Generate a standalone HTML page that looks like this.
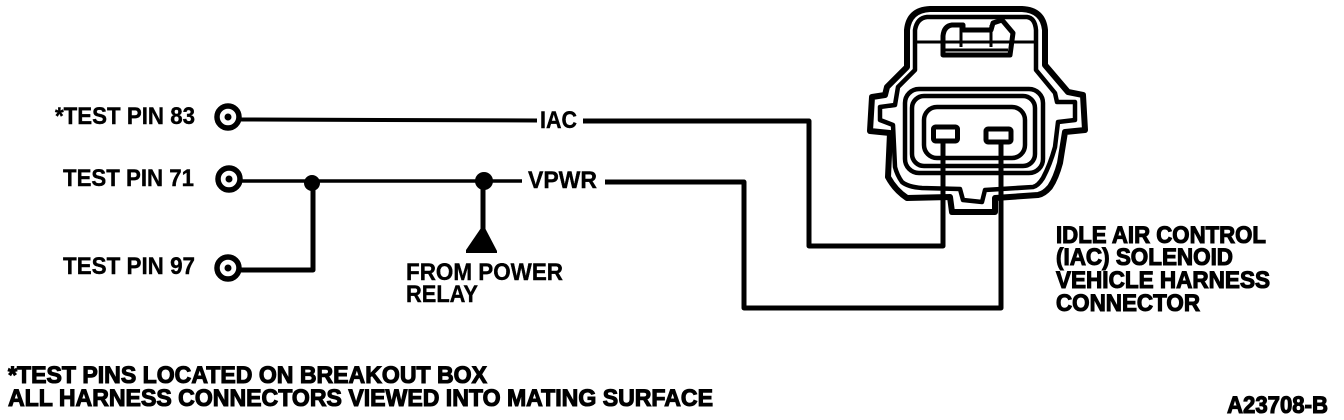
<!DOCTYPE html>
<html>
<head>
<meta charset="utf-8">
<style>
html,body{margin:0;padding:0;background:#fff;width:1344px;height:420px;overflow:hidden}
svg{display:block}
text{font-family:"Liberation Sans",sans-serif;fill:#000;font-weight:bold}
.a{font-size:24px;stroke:#000;stroke-width:.4px}
.b{font-size:24px;stroke:#000;stroke-width:1.1px}
</style>
</head>
<body>
<svg width="1344" height="420" viewBox="0 0 1344 420" xmlns="http://www.w3.org/2000/svg">
<rect width="1344" height="420" fill="#fff"/>
<g fill="none" stroke="#000" stroke-linejoin="round">
  <!-- connector outer contour -->
  <path stroke-width="6" d="M907,67 L907,30 Q909,10 930,9 L1022,9 Q1043,10 1045,30 L1045,65 L1068,92 L1083,95 L1085,130 L1065,132 L1060,163 Q1056,178 1050,187 Q1044,194 1038,195 L995,198 L995,212 L952,212 L950,197 L907,198 Q895,190 888,177 L890,133 L870,131 L872,97 L885,95 L887,87 Z"/>
  <!-- connector inner contour -->
  <path stroke-width="4.500" d="M915,70 L915,30 Q917,18 927,17 L1027,17 Q1035,18 1036,30 L1036,70 L1055,93 L1057,102 L1075,102 L1075,120 L1058,122 L1055,147 Q1050,165 1043,178 Q1038,186 1033,187 L985,190 L982,202 L963,200 L960,189 L922,188 Q908,187 902,182 Q897,175 895,167 L893,125 L880,120 L880,107 L895,105 L898,87 Z"/>
  <!-- cross line and latch -->
  <path stroke-width="3" d="M915,42 L1036,42"/>
  <path stroke-width="5" d="M943,55 L943,36 Q944,26 952,25 L963,25 L963,30 L991,30 L993,23 L1002,20 L1013,33 L1010,55 Z"/>
  <path stroke-width="3" d="M961,25 L961,47 M991,25 L991,47 M945,50 L1008,50"/>
  <!-- rounded nested rects -->
  <rect x="905" y="89" width="138" height="84" rx="14" stroke-width="4.500"/>
  <rect x="912" y="96" width="123" height="70" rx="12" stroke-width="4.500"/>
  <rect x="924" y="107" width="101" height="51" rx="13" stroke-width="4.500"/>
  <!-- pins -->
  <rect x="933.500" y="127" width="24" height="14" rx="2" stroke-width="5"/>
  <rect x="986" y="129" width="25" height="13" rx="2" stroke-width="5"/>
  <!-- wires -->
  <path stroke-width="5" d="M583,121 L809,121 L809,246 L943,246 L943,140"/>
  <path stroke-width="5" d="M605,182 L744,182 L744,308 L1001,308 L1001,143"/>
  <path stroke-width="4" d="M240,119.500 L537,120.500"/>
  <path stroke-width="3.500" d="M240,181 L522,181"/>
  <path stroke-width="5" d="M240,270 L313,270 L313,183"/>
  <path stroke-width="5" d="M483,181 L483,232"/>
  <!-- test pin circles -->
  <circle cx="228" cy="117" r="11" stroke-width="5.500"/>
  <circle cx="229" cy="179" r="11" stroke-width="5.500"/>
  <circle cx="228" cy="268" r="11" stroke-width="5.500"/>
</g>
<circle cx="228" cy="117" r="3.500"/>
<circle cx="229" cy="179" r="3.500"/>
<circle cx="228" cy="268" r="3.500"/>
<circle cx="312" cy="183" r="8"/>
<circle cx="484" cy="181" r="9"/>
<polygon points="481,228 485,228 497,251 497,253 466,253 466,250"/>

<text class="a" x="55" y="124" textLength="140" lengthAdjust="spacingAndGlyphs">*TEST PIN 83</text>
<text class="a" x="63" y="186" textLength="131" lengthAdjust="spacingAndGlyphs">TEST PIN 71</text>
<text class="a" x="63" y="274" textLength="132" lengthAdjust="spacingAndGlyphs">TEST PIN 97</text>
<text class="a" x="540" y="128" textLength="37" lengthAdjust="spacingAndGlyphs">IAC</text>
<text class="a" x="528" y="188" textLength="69" lengthAdjust="spacingAndGlyphs">VPWR</text>
<text class="a" x="406" y="280" textLength="157" lengthAdjust="spacingAndGlyphs">FROM POWER</text>
<text class="a" x="406" y="302" textLength="72" lengthAdjust="spacingAndGlyphs">RELAY</text>

<text class="b" x="1056" y="243" textLength="210" lengthAdjust="spacingAndGlyphs">IDLE AIR CONTROL</text>
<text class="b" x="1056" y="265" textLength="177" lengthAdjust="spacingAndGlyphs">(IAC) SOLENOID</text>
<text class="b" x="1056" y="288" textLength="214" lengthAdjust="spacingAndGlyphs">VEHICLE HARNESS</text>
<text class="b" x="1056" y="311" textLength="144" lengthAdjust="spacingAndGlyphs">CONNECTOR</text>

<text class="b" x="8" y="383" textLength="479" lengthAdjust="spacingAndGlyphs">*TEST PINS LOCATED ON BREAKOUT BOX</text>
<text class="b" x="8" y="406" textLength="705" lengthAdjust="spacingAndGlyphs">ALL HARNESS CONNECTORS VIEWED INTO MATING SURFACE</text>
<text class="b" x="1227" y="413" textLength="101" lengthAdjust="spacingAndGlyphs">A23708-B</text>
</svg>
</body>
</html>
